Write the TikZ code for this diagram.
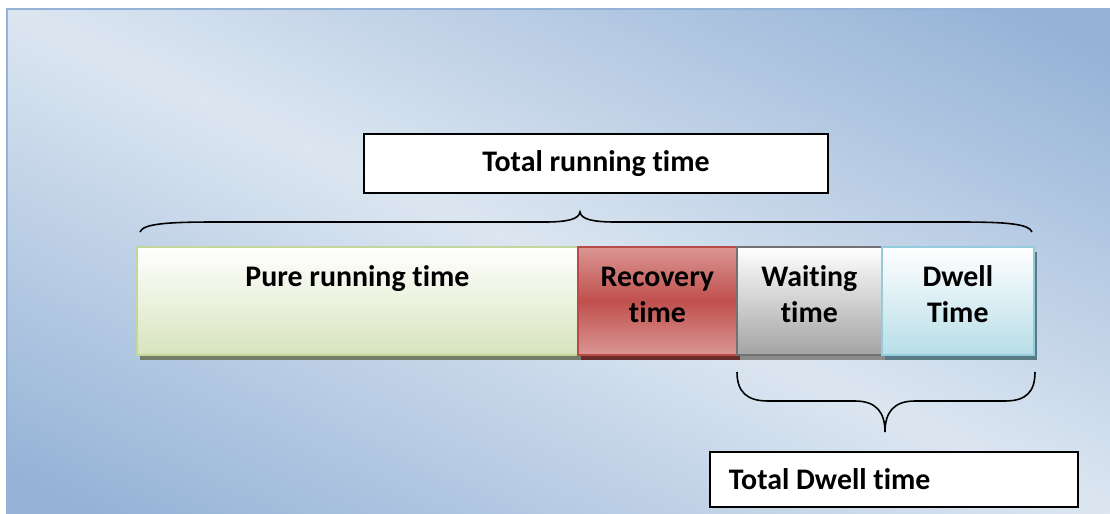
\documentclass[tikz,border=0pt]{standalone}
\usepackage{fontspec}
\setmainfont[Ligatures=NoCommon]{Carlito}
\usetikzlibrary{positioning,shadows}

\definecolor{panelblue}{HTML}{95B3D7}
\definecolor{panellight}{HTML}{DCE6F1}
\definecolor{puregreen}{HTML}{D7E4BD}
\definecolor{pureline}{HTML}{C3D69B}
\definecolor{recred}{HTML}{C0504D}
\definecolor{recpink}{HTML}{DA9694}
\definecolor{recline}{HTML}{B84A47}
\definecolor{waitgray}{HTML}{A3A3A3}
\definecolor{waitline}{HTML}{727272}
\definecolor{dwellblue}{HTML}{B7DEE8}
\definecolor{dwellline}{HTML}{93CDDD}

\begin{document}
\begin{tikzpicture}[
    x=0.02cm, y=-0.02cm,
    node distance=0pt,
    every node/.style={font=\fontsize{17}{20.5}\selectfont\bfseries},
    bar/.style={
      draw,
      line width=1.1pt,
      minimum height=2.16cm,
      inner sep=0pt,
      outer sep=0pt
    },
    bartext/.style={align=center, inner sep=0pt},
    tbox/.style={draw, line width=1.1pt, fill=white},
    brace/.style={line width=0.9pt}
  ]
    \useasboundingbox (0,0) rectangle (1110,514);
    \fill[white] (0,0) rectangle (1110,514);
    \begin{scope}
      \clip (7,9) rectangle (1112,516);
      \fill[panelblue] (7,9) rectangle (1112,516);
      \shade[transform canvas={rotate around={-24.6:(558,262)}},
        top color=panelblue, bottom color=panelblue, middle color=panellight]
        (-62,-158) rectangle (1178,682);
    \end{scope}
    \draw[panelblue, line width=1.2pt] (7,516) -- (7,9) -- (1112,9);

    \node[tbox, minimum width=9.28cm, minimum height=1.18cm] (totalrun) at (596,163.5) {Total running time};

    \node[bar, anchor=north west, minimum width=8.82cm, draw=pureline,
      top color=white, bottom color=puregreen,
      general shadow={fill=black!45!puregreen, shadow xshift=0.06cm, shadow yshift=-0.1cm}] (pure) at (137,247) {};
    \node[bar, right=of pure, minimum width=3.18cm, draw=recline,
      top color=recpink, bottom color=recpink, middle color=recred,
      general shadow={fill=black!45!recred, shadow xshift=0.06cm, shadow yshift=-0.1cm}] (recovery) {};
    \node[bar, right=of recovery, minimum width=2.9cm, draw=waitline,
      top color=white, bottom color=waitgray,
      general shadow={fill=black!15!waitgray, shadow xshift=0.06cm, shadow yshift=-0.1cm}] (waiting) {};
    \node[bar, right=of waiting, minimum width=3.04cm, draw=dwellline,
      top color=white, bottom color=dwellblue,
      general shadow={fill=black!40!dwellline, shadow xshift=0.06cm, shadow yshift=-0.1cm}] (dwell) {};

    \node[bartext, below=0.28cm of pure.north] (purelbl) {\strut Pure running time};
    \node[bartext, below=0.28cm of recovery.north] (recoverylbl) {\strut Recovery\\time};
    \node[bartext, below=0.28cm of waiting.north] (waitinglbl) {\strut Waiting\\time};
    \node[bartext, below=0.28cm of dwell.north] (dwelllbl) {\strut Dwell\\Time};

    % braces
    \coordinate (runleft) at (140,232);
    \coordinate (runtip) at (580,212);
    \coordinate (runright) at (1032,232);
    \coordinate (dwleft) at (737,372);
    \coordinate (dwtip) at (885,432);
    \coordinate (dwright) at (1035,372);

    \draw[brace] (runleft) .. controls (143,224) and (165,222) .. (215,222) -- (545,222)
      .. controls (568,222) and (579,219) .. (runtip)
      .. controls (581,219) and (592,222) .. (615,222) -- (960,222)
      .. controls (1008,222) and (1029,224) .. (runright);
    \draw[brace] (dwleft) .. controls (737,392) and (747,401) .. (768,401) -- (855,401)
      .. controls (876,401) and (885,412) .. (dwtip)
      .. controls (885,412) and (894,401) .. (915,401) -- (1005,401)
      .. controls (1026,401) and (1035,392) .. (dwright);

    \node[tbox, anchor=north west, text width=6.6cm, inner xsep=0.38cm,
      minimum height=1.1cm, align=flush left] (totaldwell) at (709,451) {Total Dwell time};
  \end{tikzpicture}
\end{document}
